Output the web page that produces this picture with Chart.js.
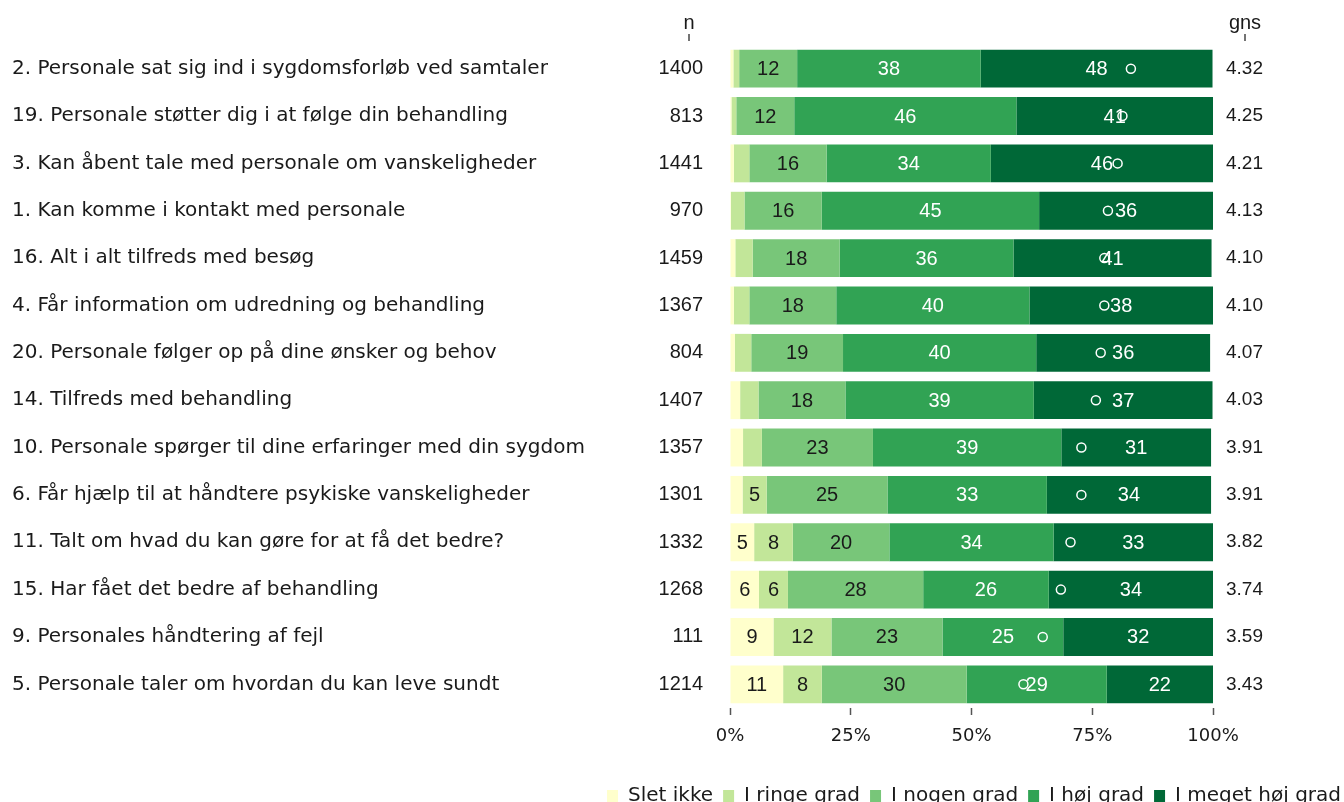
<!DOCTYPE html>
<html lang="da">
<head>
<meta charset="utf-8">
<title>Patienters vurdering af personale og behandling</title>
<script src="https://cdn.jsdelivr.net/npm/chart.js@4.4.1/dist/chart.umd.min.js"></script>
<style>
  html, body { margin: 0; padding: 0; background: #ffffff; }
  #wrap { width: 1344px; height: 802px; position: relative; }
</style>
</head>
<body>
<div id="wrap"><canvas id="chart" width="1344" height="802"></canvas></div>
<script>
// Spørgsmål, sorteret efter gennemsnit (højeste øverst)
const questions = [
  '2. Personale sat sig ind i sygdomsforløb ved samtaler',
  '19. Personale støtter dig i at følge din behandling',
  '3. Kan åbent tale med personale om vanskeligheder',
  '1. Kan komme i kontakt med personale',
  '16. Alt i alt tilfreds med besøg',
  '4. Får information om udredning og behandling',
  '20. Personale følger op på dine ønsker og behov',
  '14. Tilfreds med behandling',
  '10. Personale spørger til dine erfaringer med din sygdom',
  '6. Får hjælp til at håndtere psykiske vanskeligheder',
  '11. Talt om hvad du kan gøre for at få det bedre?',
  '15. Har fået det bedre af behandling',
  '9. Personales håndtering af fejl',
  '5. Personale taler om hvordan du kan leve sundt'
];

// Antal besvarelser og gennemsnit (skala 1-5)
const nValues = [1400, 813, 1441, 970, 1459, 1367, 804, 1407, 1357, 1301, 1332, 1268, 111, 1214];
const means   = [4.32, 4.25, 4.21, 4.13, 4.10, 4.10, 4.07, 4.03, 3.91, 3.91, 3.82, 3.74, 3.59, 3.43];

// Svarfordeling i procent
const sletIkke      = [0.7, 0.3, 0.8, 0.2, 1.1, 0.8, 1.0, 2.1, 2.7, 2.6, 5, 6, 9, 11];
const ringeGrad     = [1.2, 1.0, 3.2, 2.8, 3.6, 3.2, 3.4, 3.8, 3.9, 5, 8, 6, 12, 8];
const nogenGrad     = [12, 12, 16, 16, 18, 18, 19, 18, 23, 25, 20, 28, 23, 30];
const hoejGrad      = [38, 46, 34, 45, 36, 40, 40, 39, 39, 33, 34, 26, 25, 29];
const megetHoejGrad = [48, 41, 46, 36, 41, 38, 36, 37, 31, 34, 33, 34, 32, 22];

// Akse-mærker
const xTicks = [0, 25, 50, 75, 100];
const segmentNames = ['Slet ikke', 'I ringe grad', 'I nogen grad', 'I høj grad', 'I meget høj grad'];

const segmentSeries = [sletIkke, ringeGrad, nogenGrad, hoejGrad, megetHoejGrad];
const segmentColors = ['#ffffcc', '#c2e699', '#78c679', '#31a354', '#006837'];
const labelInk = ['#1a1a1a', '#1a1a1a', '#1a1a1a', '#ffffff', '#ffffff'];

const nLabels = nValues.map(String);
const gnsLabels = means.map(m => m.toFixed(2));

const SANS = '"DejaVu Sans", Verdana, sans-serif';
const ARIAL = '"Liberation Sans", Arial, sans-serif';
const INK = '#1a1a1a';

const datasets = segmentSeries.map((vals, k) => ({
  type: 'bar',
  label: segmentNames[k],
  data: vals,
  backgroundColor: segmentColors[k],
  borderWidth: 0,
  barPercentage: 0.8,
  categoryPercentage: 1.0,
  stack: 'svar',
  xAxisID: 'x',
  yAxisID: 'y'
}));

// Gennemsnit vist som hul cirkel på samme 0-100 % akse: (gns - 1) / 4
datasets.push({
  type: 'scatter',
  label: 'gns',
  stack: 'gns',
  order: -1,
  data: means.map((m, i) => ({ x: (m - 1) / 4 * 100, y: questions[i] })),
  pointStyle: 'circle',
  pointRadius: 4.5,
  pointHoverRadius: 4.5,
  pointBorderWidth: 1.5,
  pointBorderColor: '#ffffff',
  pointBackgroundColor: 'rgba(0,0,0,0)',
  xAxisID: 'x',
  yAxisID: 'y'
});

// Procenttal midt i hvert segment
const segmentLabels = {
  id: 'segmentLabels',
  afterDatasetsDraw(chart) {
    const { ctx, chartArea } = chart;
    ctx.save();
    ctx.font = '20px ' + ARIAL;
    ctx.textAlign = 'center';
    ctx.textBaseline = 'middle';
    segmentSeries.forEach((vals, k) => {
      const meta = chart.getDatasetMeta(k);
      meta.data.forEach((bar, i) => {
        const v = vals[i];
        if (v < 4.5) return;
        const x0 = Math.max(Math.min(bar.x, bar.base), chartArea.left);
        const x1 = Math.min(Math.max(bar.x, bar.base), chartArea.right);
        ctx.fillStyle = labelInk[k];
        ctx.fillText(String(Math.round(v)), (x0 + x1) / 2, bar.y + 1);
      });
    });
    ctx.restore();
  }
};

// Kolonneoverskrifter "n" og "gns" med små streger
const columnHeads = {
  id: 'columnHeads',
  afterDraw(chart) {
    const { ctx } = chart;
    const heads = [
      { text: 'n', x: chart.scales.yN.right - 41 },
      { text: 'gns', x: chart.scales.yGns.left + 32 }
    ];
    ctx.save();
    ctx.font = '20px ' + ARIAL;
    ctx.textAlign = 'center';
    ctx.textBaseline = 'alphabetic';
    ctx.fillStyle = INK;
    ctx.strokeStyle = '#444444';
    ctx.lineWidth = 1.5;
    heads.forEach(h => {
      ctx.fillText(h.text, h.x, 29);
      ctx.beginPath();
      ctx.moveTo(h.x, 34);
      ctx.lineTo(h.x, 41);
      ctx.stroke();
    });
    ctx.restore();
  }
};

new Chart(document.getElementById('chart'), {
  type: 'bar',
  data: { labels: questions, datasets },
  plugins: [segmentLabels, columnHeads],
  options: {
    indexAxis: 'y',
    responsive: false,
    animation: false,
    layout: { padding: { top: 45, left: 12, right: -7, bottom: -14 } },
    plugins: {
      tooltip: { enabled: false },
      legend: {
        position: 'bottom',
        align: 'end',
        labels: {
          boxWidth: 11,
          boxHeight: 12,
          padding: 10,
          color: INK,
          font: { family: SANS, size: 20 },
          filter: item => item.datasetIndex < segmentSeries.length
        }
      }
    },
    scales: {
      x: {
        type: 'linear',
        position: 'bottom',
        stacked: true,
        min: 0,
        max: 100,
        afterBuildTicks(scale) { scale.ticks = xTicks.map(v => ({ value: v })); },
        ticks: {
          callback: v => v + '%',
          color: INK,
          font: { family: SANS, size: 18 },
          padding: 11,
          maxRotation: 0,
          autoSkip: false
        },
        grid: { drawOnChartArea: false, drawTicks: true, tickLength: 7, tickColor: '#555555', tickWidth: 1.5 },
        border: { display: false },
        afterFit(scale) { scale.height = 68; }
      },
      y: {
        type: 'category',
        position: 'left',
        weight: 2,
        stacked: true,
        offset: true,
        ticks: {
          crossAlign: 'far',
          padding: 0,
          color: INK,
          font: { family: SANS, size: 20 },
          autoSkip: false
        },
        grid: { display: false, drawTicks: false },
        border: { display: false },
        afterFit(scale) { scale.width = 632; }
      },
      yN: {
        type: 'category',
        position: 'left',
        weight: 1,
        labels: nLabels,
        offset: true,
        ticks: {
          crossAlign: 'near',
          padding: 27,
          color: INK,
          font: { family: ARIAL, size: 20 },
          autoSkip: false
        },
        grid: { display: false, drawTicks: false },
        border: { display: false },
        afterFit(scale) { scale.width = 86; }
      },
      yGns: {
        type: 'category',
        position: 'right',
        labels: gnsLabels,
        offset: true,
        ticks: {
          crossAlign: 'near',
          padding: 13,
          color: INK,
          font: { family: ARIAL, size: 19 },
          autoSkip: false
        },
        grid: { display: false, drawTicks: false },
        border: { display: false },
        afterFit(scale) { scale.width = 138; }
      }
    }
  }
});
</script>
</body>
</html>
